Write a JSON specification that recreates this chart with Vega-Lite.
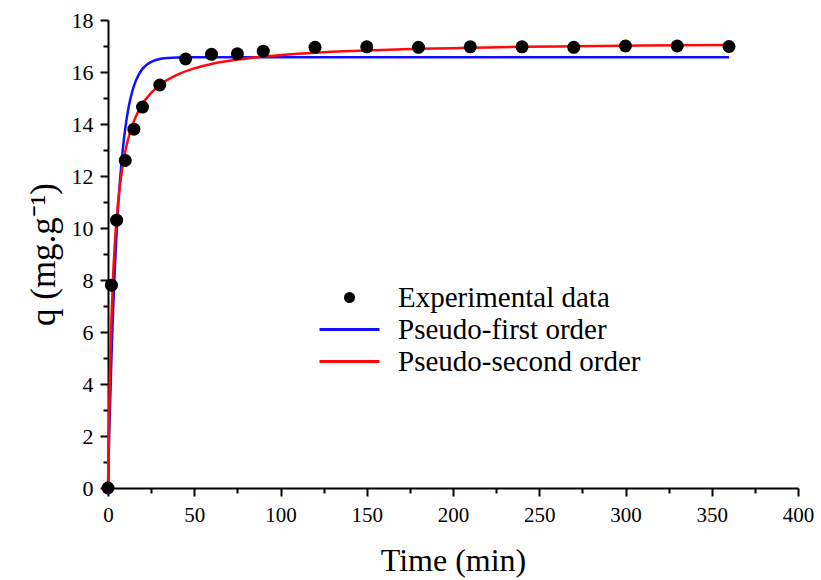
{
  "$schema": "https://vega.github.io/schema/vega-lite/v6.json",
  "width": 690,
  "height": 468,
  "autosize": {"type": "none"},
  "padding": {"left": 108, "top": 20, "right": 23, "bottom": 92},
  "background": "white",
  "config": {
    "view": {"stroke": null},
    "font": "Liberation Serif",
    "axis": {
      "grid": false,
      "domainColor": "black",
      "domainWidth": 2,
      "tickColor": "black",
      "tickWidth": 2,
      "labelColor": "black",
      "titleColor": "black",
      "labelFont": "Liberation Serif",
      "titleFont": "Liberation Serif",
      "titleFontWeight": "normal",
      "labelFlush": false
    },
    "legend": {"labelFont": "Liberation Serif"}
  },
  "data": {
    "values": [
      {"t": 0, "q": 0, "series": "Experimental data"},
      {"t": 2, "q": 7.8, "series": "Experimental data"},
      {"t": 5, "q": 10.3, "series": "Experimental data"},
      {"t": 10, "q": 12.6, "series": "Experimental data"},
      {"t": 15, "q": 13.8, "series": "Experimental data"},
      {"t": 20, "q": 14.65, "series": "Experimental data"},
      {"t": 30, "q": 15.5, "series": "Experimental data"},
      {"t": 45, "q": 16.5, "series": "Experimental data"},
      {"t": 60, "q": 16.68, "series": "Experimental data"},
      {"t": 75, "q": 16.7, "series": "Experimental data"},
      {"t": 90, "q": 16.8, "series": "Experimental data"},
      {"t": 120, "q": 16.95, "series": "Experimental data"},
      {"t": 150, "q": 16.97, "series": "Experimental data"},
      {"t": 180, "q": 16.95, "series": "Experimental data"},
      {"t": 210, "q": 16.97, "series": "Experimental data"},
      {"t": 240, "q": 16.97, "series": "Experimental data"},
      {"t": 270, "q": 16.95, "series": "Experimental data"},
      {"t": 300, "q": 17.0, "series": "Experimental data"},
      {"t": 330, "q": 17.0, "series": "Experimental data"},
      {"t": 360, "q": 16.98, "series": "Experimental data"},

      {"t": 0, "q": 0, "series": "Pseudo-first order"},
      {"t": 0.5, "q": 1.43, "series": "Pseudo-first order"},
      {"t": 1, "q": 2.73, "series": "Pseudo-first order"},
      {"t": 2, "q": 5.01, "series": "Pseudo-first order"},
      {"t": 3, "q": 6.91, "series": "Pseudo-first order"},
      {"t": 4, "q": 8.5, "series": "Pseudo-first order"},
      {"t": 5, "q": 9.83, "series": "Pseudo-first order"},
      {"t": 6, "q": 10.94, "series": "Pseudo-first order"},
      {"t": 7, "q": 11.87, "series": "Pseudo-first order"},
      {"t": 8, "q": 12.64, "series": "Pseudo-first order"},
      {"t": 10, "q": 13.83, "series": "Pseudo-first order"},
      {"t": 12, "q": 14.66, "series": "Pseudo-first order"},
      {"t": 14, "q": 15.24, "series": "Pseudo-first order"},
      {"t": 16, "q": 15.64, "series": "Pseudo-first order"},
      {"t": 18, "q": 15.92, "series": "Pseudo-first order"},
      {"t": 20, "q": 16.12, "series": "Pseudo-first order"},
      {"t": 23, "q": 16.31, "series": "Pseudo-first order"},
      {"t": 26, "q": 16.42, "series": "Pseudo-first order"},
      {"t": 30, "q": 16.5, "series": "Pseudo-first order"},
      {"t": 35, "q": 16.54, "series": "Pseudo-first order"},
      {"t": 40, "q": 16.56, "series": "Pseudo-first order"},
      {"t": 50, "q": 16.57, "series": "Pseudo-first order"},
      {"t": 100, "q": 16.57, "series": "Pseudo-first order"},
      {"t": 200, "q": 16.57, "series": "Pseudo-first order"},
      {"t": 300, "q": 16.57, "series": "Pseudo-first order"},
      {"t": 360, "q": 16.57, "series": "Pseudo-first order"},

      {"t": 0, "q": 0, "series": "Pseudo-second order"},
      {"t": 0.5, "q": 2.27, "series": "Pseudo-second order"},
      {"t": 1, "q": 4.01, "series": "Pseudo-second order"},
      {"t": 2, "q": 6.5, "series": "Pseudo-second order"},
      {"t": 3, "q": 8.2, "series": "Pseudo-second order"},
      {"t": 4, "q": 9.44, "series": "Pseudo-second order"},
      {"t": 5, "q": 10.37, "series": "Pseudo-second order"},
      {"t": 7, "q": 11.7, "series": "Pseudo-second order"},
      {"t": 10, "q": 12.94, "series": "Pseudo-second order"},
      {"t": 12, "q": 13.5, "series": "Pseudo-second order"},
      {"t": 15, "q": 14.11, "series": "Pseudo-second order"},
      {"t": 20, "q": 14.77, "series": "Pseudo-second order"},
      {"t": 25, "q": 15.2, "series": "Pseudo-second order"},
      {"t": 30, "q": 15.5, "series": "Pseudo-second order"},
      {"t": 40, "q": 15.89, "series": "Pseudo-second order"},
      {"t": 50, "q": 16.14, "series": "Pseudo-second order"},
      {"t": 60, "q": 16.31, "series": "Pseudo-second order"},
      {"t": 75, "q": 16.48, "series": "Pseudo-second order"},
      {"t": 90, "q": 16.59, "series": "Pseudo-second order"},
      {"t": 110, "q": 16.7, "series": "Pseudo-second order"},
      {"t": 130, "q": 16.78, "series": "Pseudo-second order"},
      {"t": 150, "q": 16.83, "series": "Pseudo-second order"},
      {"t": 180, "q": 16.89, "series": "Pseudo-second order"},
      {"t": 210, "q": 16.93, "series": "Pseudo-second order"},
      {"t": 240, "q": 16.97, "series": "Pseudo-second order"},
      {"t": 270, "q": 16.99, "series": "Pseudo-second order"},
      {"t": 300, "q": 17.01, "series": "Pseudo-second order"},
      {"t": 330, "q": 17.03, "series": "Pseudo-second order"},
      {"t": 360, "q": 17.04, "series": "Pseudo-second order"}
    ]
  },
  "resolve": {"axis": {"x": "independent", "y": "independent"}},
  "layer": [
    {
      "transform": [{"filter": "datum.series !== 'Experimental data'"}],
      "mark": {"type": "line", "strokeWidth": 2.5, "interpolate": "monotone"},
      "encoding": {
        "x": {
          "field": "t", "type": "quantitative",
          "scale": {"domain": [0, 400], "nice": false},
          "axis": {
            "orient": "bottom",
            "values": [0, 50, 100, 150, 200, 250, 300, 350, 400],
            "tickSize": 8,
            "labelFlush": false,
            "labelFont": "Liberation Serif",
            "labelFontSize": 21,
            "labelPadding": 8,
            "title": "Time (min)",
            "titleFont": "Liberation Serif",
            "titleFontSize": 32,
            "titlePadding": 20
          }
        },
        "y": {
          "field": "q", "type": "quantitative",
          "scale": {"domain": [0, 18], "nice": false},
          "axis": {
            "orient": "left",
            "values": [0, 2, 4, 6, 8, 10, 12, 14, 16, 18],
            "tickSize": 8,
            "labelFlush": false,
            "labelFont": "Liberation Serif",
            "labelFontSize": 22,
            "labelPadding": 7,
            "title": "q (mg.g⁻¹)",
            "titleFont": "Liberation Serif",
            "titleFontSize": 35,
            "titlePadding": 10
          }
        },
        "color": {
          "field": "series", "type": "nominal",
          "scale": {
            "domain": ["Experimental data", "Pseudo-first order", "Pseudo-second order"],
            "range": ["black", "#1010ff", "#ff0a0a"]
          },
          "legend": {
            "title": null,
            "orient": "none",
            "legendX": 227,
            "legendY": 263,
            "labelFont": "Liberation Serif",
            "labelFontSize": 29,
            "labelColor": "black",
            "labelLimit": 500,
            "labelOffset": 34,
            "symbolSize": 3600,
            "rowPadding": 2,
            "encode": {
              "symbols": {
                "update": {
                  "shape": {"signal": "datum.value === 'Experimental data' ? 'circle' : 'stroke'"},
                  "size": {"signal": "datum.value === 'Experimental data' ? 121 : 3600"},
                  "fill": {"signal": "datum.value === 'Experimental data' ? 'black' : 'transparent'"},
                  "stroke": {"scale": "color", "field": "value"},
                  "strokeWidth": {"signal": "datum.value === 'Experimental data' ? 0 : 3"},
                  "opacity": {"value": 1}
                }
              }
            }
          }
        }
      }
    },
    {
      "transform": [{"filter": "datum.series === 'Experimental data'"}],
      "mark": {"type": "point", "filled": true, "size": 169, "opacity": 1, "shape": "circle"},
      "encoding": {
        "x": {
          "field": "t", "type": "quantitative",
          "axis": {
            "orient": "bottom",
            "values": [25, 75, 125, 175, 225, 275, 325, 375],
            "tickSize": 5,
            "labels": false,
            "domain": false,
            "title": null
          }
        },
        "y": {
          "field": "q", "type": "quantitative",
          "axis": {
            "orient": "left",
            "values": [1, 3, 5, 7, 9, 11, 13, 15, 17],
            "tickSize": 5,
            "labels": false,
            "domain": false,
            "title": null
          }
        },
        "color": {"field": "series", "type": "nominal"}
      }
    }
  ]
}
